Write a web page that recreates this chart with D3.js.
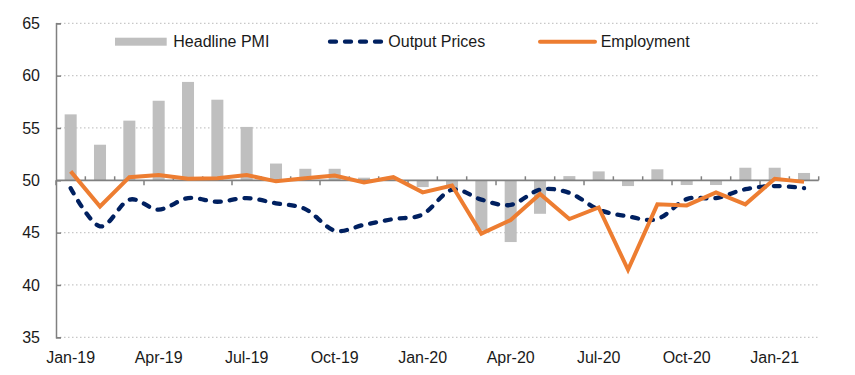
<!DOCTYPE html>
<html>
<head>
<meta charset="utf-8">
<script src="https://cdn.jsdelivr.net/npm/d3@7"></script>
<style>
  body { margin: 0; background: #fff; }
  svg text { font-family: Arial, "Liberation Sans", sans-serif; fill: #1a1a1a; }
</style>
</head>
<body>
<div id="chart"></div>
<script>
// PMI chart: headline bars around the 50 line, output prices (dashed, smoothed) and employment.

const months = ["Jan-19","Feb-19","Mar-19","Apr-19","May-19","Jun-19","Jul-19","Aug-19","Sep-19","Oct-19","Nov-19","Dec-19",
  "Jan-20","Feb-20","Mar-20","Apr-20","May-20","Jun-20","Jul-20","Aug-20","Sep-20","Oct-20","Nov-20","Dec-20",
  "Jan-21","Feb-21"];
const headlinePMI = [56.3,53.4,55.7,57.6,59.4,57.7,55.1,51.6,51.1,51.1,50.25,50.1,
  49.35,49.3,45.2,44.1,46.8,50.4,50.85,49.45,51.05,49.55,49.55,51.2,51.2,50.7];
const outputPrices = [49.25,45.6,48.15,47.2,48.3,47.95,48.3,47.8,47.25,45.2,45.75,46.3,
  46.75,49.1,48.15,47.65,49.1,48.8,47.2,46.55,46.3,48.2,48.3,49.15,49.45,49.25];
const employment = [50.85,47.5,50.3,50.5,50.15,50.2,50.5,49.9,50.2,50.45,49.8,50.3,
  48.85,49.5,44.9,46.2,48.7,46.3,47.4,41.45,47.7,47.6,48.85,47.7,50.15,49.85];
const yTicks = [35,40,45,50,55,60,65];

const width = 855, height = 375;
const margin = { top: 23.3, right: 36.3, bottom: 37.7, left: 56 };

const svg = d3.select("#chart").append("svg")
  .attr("width", width).attr("height", height);

const x = d3.scaleBand().domain(months)
  .range([margin.left, width - margin.right])
  .paddingInner(0.59).paddingOuter(0.295);
const cx = m => x(m) + x.bandwidth() / 2;
const y = d3.scaleLinear().domain([35, 65]).range([height - margin.bottom, margin.top]);

// gridlines (dotted)
svg.append("g").selectAll("line").data(yTicks.filter(v => v !== 50)).join("line")
  .attr("x1", margin.left).attr("x2", width - margin.right)
  .attr("y1", d => y(d)).attr("y2", d => y(d))
  .attr("stroke", "#c8c8c8").attr("stroke-width", 1.2).attr("stroke-dasharray", "1.5 2.5");

// headline PMI bars from the 50 line
svg.append("g").selectAll("rect").data(months).join("rect")
  .attr("x", m => x(m)).attr("width", x.bandwidth())
  .attr("y", (m, i) => y(Math.max(50, headlinePMI[i])))
  .attr("height", (m, i) => Math.abs(y(headlinePMI[i]) - y(50)))
  .attr("fill", "#bfbfbf");

// y axis
const gY = svg.append("g").attr("transform", `translate(${margin.left},0)`)
  .call(d3.axisLeft(y).tickValues(yTicks).tickSize(-5).tickPadding(16));
gY.select(".domain").attr("stroke", "#808080").attr("stroke-width", 1.5);
gY.selectAll(".tick line").attr("stroke", "#808080").attr("stroke-width", 1.5);
gY.selectAll(".tick text").attr("font-size", 16).attr("fill", "#1a1a1a")
  .attr("font-family", "Arial, 'Liberation Sans', sans-serif");

// x axis along the 50 line
const y50 = y(50);
const gX = svg.append("g");
gX.append("line").attr("x1", margin.left).attr("x2", width - margin.right)
  .attr("y1", y50).attr("y2", y50).attr("stroke", "#808080").attr("stroke-width", 1.8);
const step = x.step();
const x0 = x.range()[0];
gX.selectAll("line.tk").data(d3.range(months.length + 1)).join("line").attr("class", "tk")
  .attr("x1", k => x0 + k * step).attr("x2", k => x0 + k * step)
  .attr("y1", y50)
  .attr("y2", k => k % 3 === 0 ? y50 + 5 : y50 - 4)
  .attr("stroke", "#808080").attr("stroke-width", 1.5);
svg.append("g").selectAll("text").data(months.filter((m, i) => i % 3 === 0)).join("text")
  .attr("x", m => cx(m)).attr("y", 363)
  .attr("text-anchor", "middle").attr("font-size", 16)
  .text(m => m);

// lines
const lineStraight = d3.line().x((d, i) => cx(months[i])).y(d => y(d));
const lineSmooth = d3.line().x((d, i) => cx(months[i])).y(d => y(d)).curve(d3.curveCatmullRom.alpha(0));

svg.append("path").datum(outputPrices)
  .attr("d", lineSmooth).attr("fill", "none")
  .attr("stroke", "#002060").attr("stroke-width", 4.3)
  .attr("stroke-dasharray", "6 9").attr("stroke-linecap", "round");

svg.append("path").datum(employment)
  .attr("d", lineStraight).attr("fill", "none")
  .attr("stroke", "#ed7d31").attr("stroke-width", 4).attr("stroke-linejoin", "miter");

// legend
const legY = 41.7;
const leg = svg.append("g");
leg.append("rect").attr("x", 115).attr("y", legY - 4).attr("width", 51.7).attr("height", 8).attr("fill", "#bfbfbf");
leg.append("text").attr("x", 173.3).attr("y", legY).attr("dy", "0.35em").attr("font-size", 16).text("Headline PMI");
leg.append("line").attr("x1", 330).attr("x2", 382).attr("y1", legY).attr("y2", legY)
  .attr("stroke", "#002060").attr("stroke-width", 4.3).attr("stroke-dasharray", "6 9").attr("stroke-linecap", "round");
leg.append("text").attr("x", 388.3).attr("y", legY).attr("dy", "0.35em").attr("font-size", 16).text("Output Prices");
leg.append("line").attr("x1", 540).attr("x2", 595).attr("y1", legY).attr("y2", legY)
  .attr("stroke", "#ed7d31").attr("stroke-width", 4).attr("stroke-linecap", "round");
leg.append("text").attr("x", 600.7).attr("y", legY).attr("dy", "0.35em").attr("font-size", 16).text("Employment");
</script>
</body>
</html>
